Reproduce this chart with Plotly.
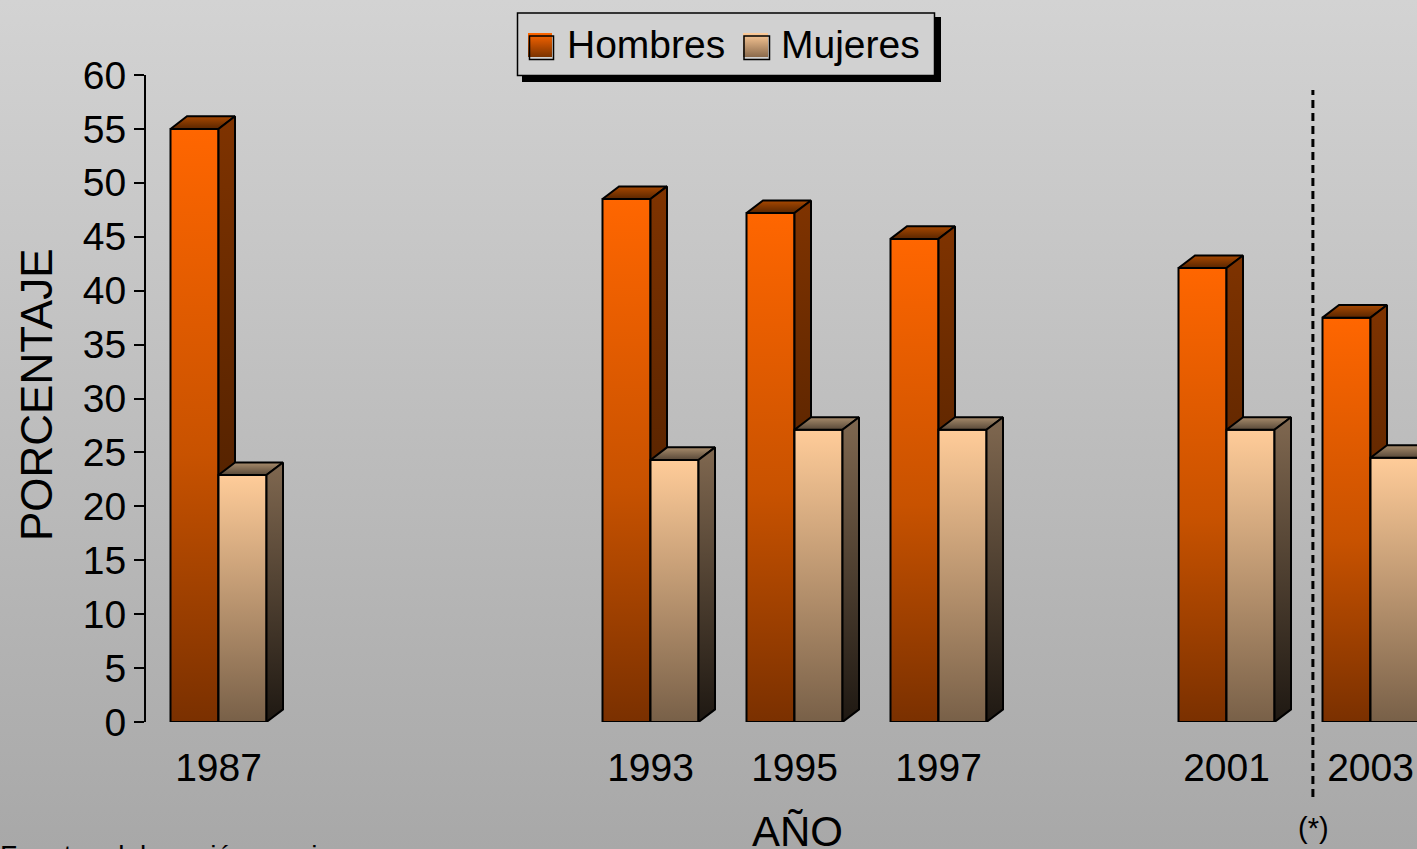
import base64
import plotly.graph_objects as go

# ---------------- data ----------------
years = [1987, 1993, 1995, 1997, 2001, 2003]
year_labels = ["1987", "1993", "1995", "1997", "2001", "2003"]
hombres = [55.0, 48.5, 47.2, 44.8, 42.1, 37.5]
mujeres = [22.9, 24.3, 27.1, 27.1, 27.1, 24.5]
series_names = ["Hombres", "Mujeres"]
y_ticks = list(range(0, 61, 5))
separator_year = 2002.2

# ---------------- geometry / style ----------------
W, H = 1417, 849
ML, MR, MT, MB = 146, 0, 75, 127
PW, PH = W - ML - MR, H - MT - MB
PX_PER_YEAR = 72.0
X0 = 1987 - (218.5 - ML) / PX_PER_YEAR
X1 = X0 + PW / PX_PER_YEAR
Y0, Y1 = 0, 60
PX_PER_UNIT = PH / (Y1 - Y0)

BAR_W = 48 / PX_PER_YEAR
DX = 16.5 / PX_PER_YEAR
DY = 12.6 / PX_PER_UNIT

FONT = "Liberation Sans, Arial, sans-serif"

styles = {
    "Hombres": dict(
        front=[[0, "#7a3000"], [0.45, "#c85200"], [1, "#ff6600"]],
        top=[[0, "#5a2600"], [1, "#a84800"]],
        side=[[0, "#3a1800"], [1, "#7f3300"]],
    ),
    "Mujeres": dict(
        front=[[0, "#786048"], [1, "#ffcc99"]],
        top=[[0, "#574838"], [1, "#a88c6c"]],
        side=[[0, "#1e1812"], [1, "#806850"]],
    ),
}


def px_x(p):
    return (p - ML) / PW


def px_y(p):
    return (H - MB - p) / PH


def grad_svg(top, bottom):
    svg = (
        '<svg xmlns="http://www.w3.org/2000/svg" width="10" height="100" '
        'viewBox="0 0 10 100" preserveAspectRatio="none">'
        '<defs><linearGradient id="g" x1="0" y1="0" x2="0" y2="1">'
        f'<stop offset="0" stop-color="{top}"/><stop offset="1" stop-color="{bottom}"/>'
        '</linearGradient></defs><rect width="10" height="100" fill="url(#g)"/></svg>'
    )
    return "data:image/svg+xml;base64," + base64.b64encode(svg.encode()).decode()


fig = go.Figure()


def face(xs, ys, cs):
    fig.add_trace(go.Scatter(
        x=xs + [xs[0]], y=ys + [ys[0]], mode="lines", fill="toself",
        fillgradient=dict(type="vertical", colorscale=cs),
        line=dict(color="black", width=2), hoverinfo="skip", showlegend=False,
    ))


for i, yr in enumerate(years):
    for s, vals in zip(series_names, [hombres, mujeres]):
        v = vals[i]
        x0 = yr - BAR_W if s == "Hombres" else yr
        x1 = x0 + BAR_W
        st = styles[s]
        # front face
        face([x0, x1, x1, x0], [0, 0, v, v], st["front"])
        # top face
        face([x0, x1, x1 + DX, x0 + DX], [v, v, v + DY, v + DY], st["top"])
        # side face
        face([x1, x1 + DX, x1 + DX, x1], [0, DY, v + DY, v], st["side"])

images = [
    dict(source=grad_svg("#d3d3d3", "#a8a8a8"), xref="paper", yref="paper",
         x=px_x(0), y=px_y(0), sizex=W / PW, sizey=H / PH,
         xanchor="left", yanchor="top", sizing="stretch", layer="below"),
    dict(source=grad_svg("#ff6600", "#7a3300"), xref="paper", yref="paper",
         x=px_x(528), y=px_y(33), sizex=24 / PW, sizey=24 / PH,
         xanchor="left", yanchor="top", sizing="stretch", layer="above"),
    dict(source=grad_svg("#ffcc99", "#8a6a4c"), xref="paper", yref="paper",
         x=px_x(743), y=px_y(33), sizex=25 / PW, sizey=24 / PH,
         xanchor="left", yanchor="top", sizing="stretch", layer="above"),
]

shapes = [
    # legend shadow and box
    dict(type="rect", xref="paper", yref="paper", x0=px_x(522), x1=px_x(941),
         y0=px_y(17), y1=px_y(82), fillcolor="black", line=dict(width=0), layer="below"),
    dict(type="rect", xref="paper", yref="paper", x0=px_x(517.5), x1=px_x(934.5),
         y0=px_y(13), y1=px_y(75.5), fillcolor="#d1d1d1",
         line=dict(color="black", width=1.5), layer="below"),
    # legend symbol outlines
    dict(type="rect", xref="paper", yref="paper", x0=px_x(529.5), x1=px_x(553.5),
         y0=px_y(36), y1=px_y(59.5), line=dict(color="black", width=1.5)),
    dict(type="rect", xref="paper", yref="paper", x0=px_x(744), x1=px_x(769.5),
         y0=px_y(36), y1=px_y(59.5), line=dict(color="black", width=1.5)),
    # separator
    dict(type="line", xref="x", yref="paper", x0=separator_year, x1=separator_year,
         y0=px_y(797), y1=px_y(90), line=dict(color="black", width=3, dash="8px,5px")),
]

annotations = [
    dict(text=series_names[0], xref="paper", yref="paper", x=px_x(565), y=px_y(44),
         xanchor="left", yanchor="middle", showarrow=False,
         font=dict(family=FONT, size=39, color="black")),
    dict(text=series_names[1], xref="paper", yref="paper", x=px_x(779), y=px_y(44),
         xanchor="left", yanchor="middle", showarrow=False,
         font=dict(family=FONT, size=39, color="black")),
    dict(text="PORCENTAJE", xref="paper", yref="paper", x=px_x(37), y=px_y(395),
         xanchor="center", yanchor="middle", textangle=-90, showarrow=False,
         font=dict(family=FONT, size=44, color="black")),
    dict(text="AÑO", xref="paper", yref="paper", x=px_x(797), y=px_y(831),
         xanchor="center", yanchor="middle", showarrow=False,
         font=dict(family=FONT, size=42, color="black")),
    dict(text="(*)", xref="paper", yref="paper", x=px_x(1313), y=px_y(828),
         xanchor="center", yanchor="middle", showarrow=False,
         font=dict(family=FONT, size=29, color="black")),
    dict(text="Fuente: elaboración propia", xref="paper", yref="paper", x=px_x(-2), y=px_y(838),
         xanchor="left", yanchor="top", showarrow=False,
         font=dict(family=FONT, size=28, color="black")),
]

fig.update_layout(
    width=W, height=H,
    margin=dict(l=ML, r=MR, t=MT, b=MB, pad=0),
    paper_bgcolor="#bdbdbd", plot_bgcolor="rgba(0,0,0,0)",
    showlegend=False,
    images=images, shapes=shapes, annotations=annotations,
    xaxis=dict(range=[X0, X1], tickmode="array", tickvals=years, ticktext=year_labels,
               showgrid=False, zeroline=False, showline=False, ticks="",
               tickfont=dict(family=FONT, size=39, color="black"),
               ticklabelstandoff=19, fixedrange=True),
    yaxis=dict(range=[Y0, Y1], tickmode="array", tickvals=y_ticks,
               showgrid=False, zeroline=False, showline=True, linecolor="black", linewidth=2,
               ticks="outside", ticklen=10, tickwidth=2, tickcolor="black",
               tickfont=dict(family=FONT, size=39, color="black"),
               ticklabelstandoff=0, fixedrange=True),
)

fig.write_html(
    "out.html",
    config={"displayModeBar": False},
    post_script="document.body.style.margin='0';document.body.style.overflow='hidden';",
)
